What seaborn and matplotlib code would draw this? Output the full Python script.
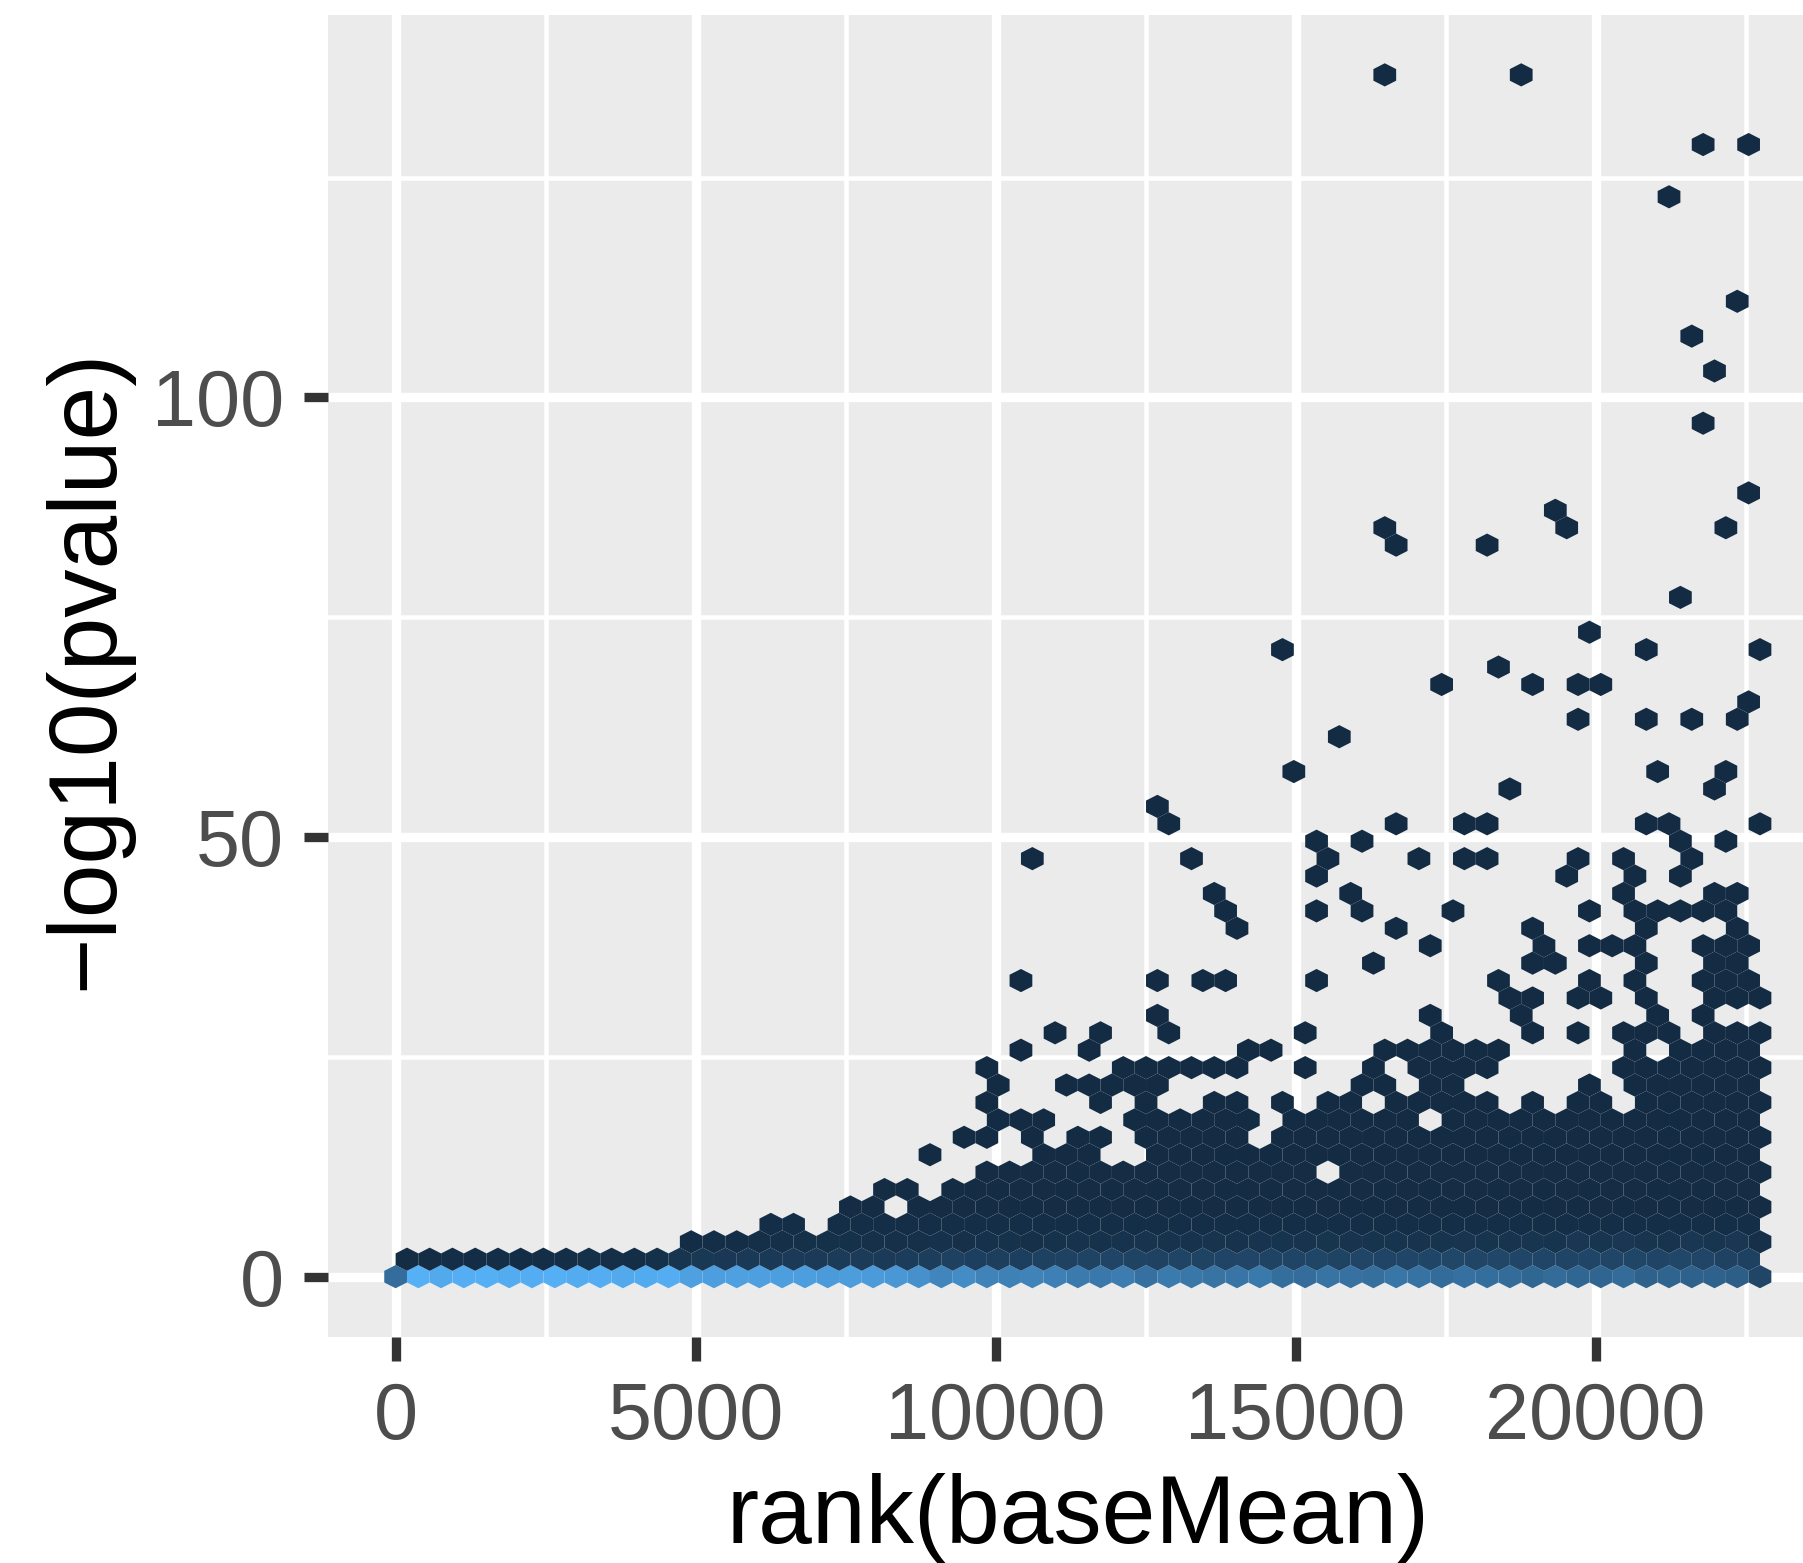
import numpy as np
import pandas as pd
import matplotlib
matplotlib.use("Agg")
import matplotlib.pyplot as plt
import seaborn as sns

### values ###
# hex rows are ~1.98 apart in -log10(pvalue), half a column is ~189.5 in rank
half_col = 189.5
row_height = 1.981

x_ticks = [0, 5000, 10000, 15000, 20000]
x_minor = [2500, 7500, 12500, 17500, 22500]
y_ticks = [0, 50, 100]
y_minor = [25, 75, 125]

# counts along the bottom rows, left to right
row0_counts = [150,
               302, 288, 298, 300, 292, 296, 300, 292, 296, 286, 290, 296,
               266, 262, 266, 264, 262, 262, 256, 258, 256, 246,
               232, 205, 220, 200, 196, 200, 194, 180, 176, 186, 158, 180, 172, 165,
               168, 178, 152, 150, 165, 160, 155, 170, 162, 148, 158, 152, 146, 135,
               146, 135, 132, 146, 124, 130, 125, 124, 118, 60]
row1_counts = [4, 5, 8, 6, 9, 6, 8, 7, 12, 10, 9, 12,
               24, 30, 31, 34, 34, 36, 36, 38, 38, 36, 40, 44,
               52, 48, 46, 48, 52, 54, 56, 58, 56, 54, 58, 56,
               58, 60, 56, 58, 62, 56, 60, 58, 60, 62, 64, 60,
               64, 60, 62, 58, 62, 60, 62, 58, 64, 60, 54, 52]
row2_counts = [6, 8, 8, 10, 10, 12, 12, 12, 14, 14, 14, 16,
               14, 16, 16, 14, 16, 18, 16, 18, 20, 18, 18, 20,
               18, 20, 22, 20, 24, 20, 22, 22, 20, 22, 24, 22,
               22, 24, 22, 26, 24, 26, 24, 22, 26, 24, 26, 14]
row2_first = 26

# rows 3 to 13: runs of filled hexes (first, last half-column)
dense_rows = [3, 4, 5, 6, 7, 8, 9, 10, 11, 12, 13]
dense_runs = [
    [(33, 35), (39, 119)],
    [(40, 42), (46, 120)],
    [(43, 45), (49, 119)],
    [(52, 80), (84, 120)],
    [(47, 47), (57, 61), (67, 119)],
    [(50, 52), (56, 56), (60, 62), (66, 74), (78, 120)],
    [(53, 57), (65, 75), (79, 89), (93, 119)],
    [(52, 52), (62, 62), (66, 66), (72, 74), (78, 78), (82, 84), (88, 96), (100, 100),
     (104, 106), (110, 120)],
    [(53, 53), (59, 67), (85, 87), (91, 93), (105, 105), (109, 119)],
    [(52, 52), (64, 74), (80, 80), (86, 86), (90, 96), (108, 120)],
    [(55, 55), (61, 61), (75, 77), (87, 97), (109, 109), (113, 119)],
]
dense_counts = [7, 5, 4, 4, 3, 3, 2, 1, 1, 1, 1]

# everything above: single counts
sparse_rows = [14, 15, 16, 17, 18, 19, 20, 21, 22, 23, 24, 25, 26, 27, 28, 29, 31, 32, 33, 34,
               35, 36, 37, 39, 42, 43, 44, 45, 49, 52, 54, 56, 62, 65, 69]
sparse_cols = [
    [58, 62, 68, 80, 92, 100, 104, 108, 110, 112, 116, 118, 120],
    [67, 91, 99, 111, 115],
    [98, 100, 104, 106, 110, 116, 118, 120],
    [55, 67, 71, 73, 81, 97, 105, 109, 115, 117, 119],
    [86, 100, 102, 110, 116, 118],
    [91, 101, 105, 107, 109, 115, 117, 119],
    [74, 88, 100, 110, 118],
    [73, 81, 85, 93, 105, 109, 111, 113, 115, 117],
    [72, 84, 108, 116, 118],
    [81, 103, 109, 113],
    [56, 70, 82, 90, 94, 96, 104, 108, 114],
    [81, 85, 113, 117],
    [68, 88, 94, 96, 110, 112, 120],
    [67],
    [98, 116],
    [79, 111, 117],
    [83],
    [104, 110, 114, 118],
    [119],
    [92, 100, 104, 106],
    [97],
    [78, 110, 120],
    [105],
    [113],
    [88, 96],
    [87, 103, 117],
    [102],
    [119],
    [115],
    [116],
    [114],
    [118],
    [112],
    [115, 119],
    [87, 99],
]

### build the table of hexes ###
rows = []
for i, n in enumerate(row0_counts):
    rows.append((i * 2, 0, n))
for i, n in enumerate(row1_counts):
    rows.append((i * 2 + 1, 1, n))
for i, n in enumerate(row2_counts):
    rows.append((row2_first + i * 2, 2, n))
for r, runs, n in zip(dense_rows, dense_runs, dense_counts):
    for first, last in runs:
        for h in range(first, last + 1, 2):
            rows.append((h, r, n))
for r, cols in zip(sparse_rows, sparse_cols):
    for h in cols:
        rows.append((h, r, 1))

df = pd.DataFrame(rows, columns=['col', 'row', 'count'])
df['rank'] = df['col'] * half_col
df['pvalue'] = df['row'] * row_height

### plot ###
sns.set_theme(style='darkgrid', rc={
    'axes.facecolor': '#EBEBEB',
    'figure.facecolor': 'white',
    'grid.color': 'white',
})
plt.rcParams['font.family'] = ['Liberation Sans', 'DejaVu Sans']

fig = plt.figure(figsize=(18.03, 15.63), dpi=100)
ax = fig.add_axes([328 / 1803, 1 - 1336.7 / 1563, 1 - 328 / 1803, (1336.7 - 15) / 1563])

cmap = sns.blend_palette(['#132B43', '#56B1F7'], as_cmap=True)
ax.hexbin(df['rank'], df['pvalue'], C=df['count'], reduce_C_function=np.sum,
          gridsize=(60, 35), extent=(0, 120 * half_col, 0, 70 * row_height),
          cmap=cmap, vmin=1, vmax=305, linewidths=0, edgecolors='none', zorder=3)

ax.set_xlim(-1127, 23457)
ax.set_ylim(-6.83, 143.5)
ax.set_xticks(x_ticks)
ax.set_yticks(y_ticks)
ax.set_xticks(x_minor, minor=True)
ax.set_yticks(y_minor, minor=True)
ax.set_axisbelow(True)
ax.grid(True, which='major', color='white', linewidth=6.7)
ax.grid(True, which='minor', color='white', linewidth=3.3)
ax.tick_params(axis='both', which='major', length=17.3, width=6.7, color='#333333',
               labelcolor='#4D4D4D', labelsize=57, pad=14.5, bottom=True, left=True)
ax.tick_params(axis='both', which='minor', length=0)
for s in ax.spines.values():
    s.set_visible(False)

ax.set_xlabel("rank(baseMean)", fontsize=69.5, color='black', x=0.5085, labelpad=12)
ax.set_ylabel("\u2212log10(pvalue)", fontsize=69.5, color='black', y=0.505, labelpad=14)

fig.savefig("out.png", dpi=100)
